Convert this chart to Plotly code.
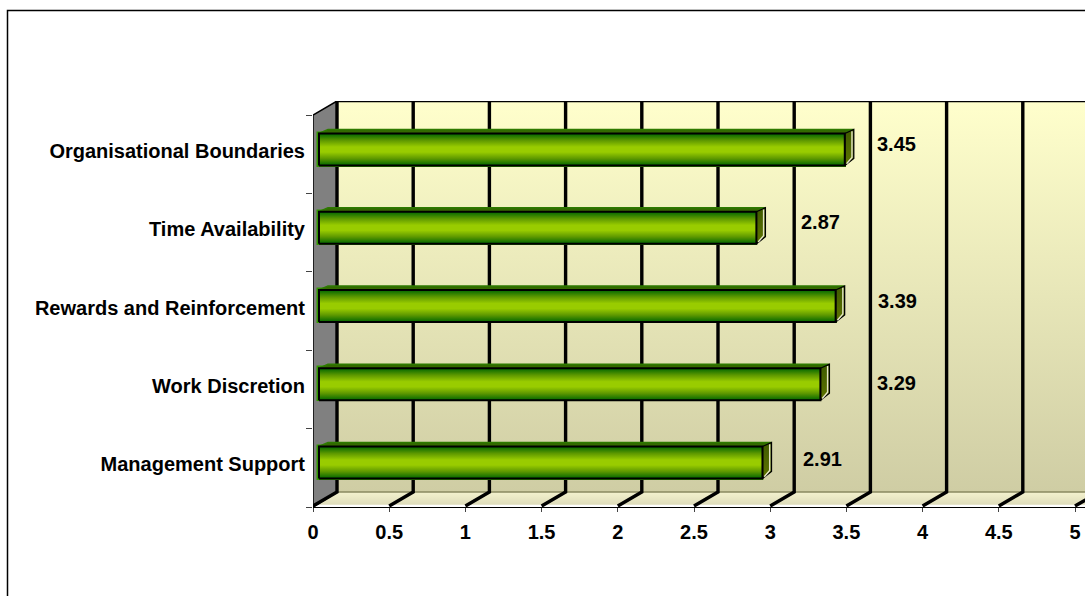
import plotly.graph_objects as go

categories = ["Management Support", "Work Discretion", "Rewards and Reinforcement", "Time Availability", "Organisational Boundaries"]
values = [2.91, 3.29, 3.39, 2.87, 3.45]
x_ticks = [0, 0.5, 1, 1.5, 2, 2.5, 3, 3.5, 4, 4.5, 5]
x_tick_labels = ["0", "0.5", "1", "1.5", "2", "2.5", "3", "3.5", "4", "4.5", "5"]
label_dx = [60, 76, 62, 64, 52]
label_dy = [-3, -1, -5, -5, -5]

W, H = 1085, 596
PX_X0, PX_XUNIT = 313, 152.4
PX_FRONT, PX_BACKTOP = 507, 101
PX_BANDS = 78.4
XMAX = (W - PX_X0) / PX_XUNIT
DX = 24 / PX_XUNIT
DY = 15 / PX_BANDS
TOP = (PX_FRONT - PX_BACKTOP) / PX_BANDS
BAR_BASE = 6 / PX_XUNIT
FONT = dict(family="Liberation Sans", size=20, color="#000000")

C0, CS = 464, 78.25
Y2MIN = (C0 - PX_FRONT) / CS
Y2MAX = (C0 - PX_BACKTOP) / CS
BAR_SHIFT = 1.5 / CS
BAR_H = 32 / CS
DEPTH_X = 9 / PX_XUNIT
DEPTH_TOP = 4 / CS
DEPTH_BOT = 7 / CS
INSET_X = 1.8 / PX_XUNIT
INSET_Y = 1.8 / CS

fig = go.Figure()

fig.add_trace(go.Scatter(x=[DX, XMAX, XMAX, DX, DX], y=[DY, DY, TOP, TOP, DY], mode="lines", fill="toself",
    line=dict(width=0), hoverinfo="skip", showlegend=False,
    fillgradient=dict(type="vertical", colorscale=[[0, "#CFCDA4"], [1, "#FFFFCC"]])))
fig.add_trace(go.Scatter(x=[0, XMAX, XMAX, DX, 0], y=[0.028, 0.028, DY, DY, 0.028], mode="lines", fill="toself",
    line=dict(width=0), hoverinfo="skip", showlegend=False,
    fillgradient=dict(type="vertical", colorscale=[[0, "#DEDCBA"], [1, "#F4F2CE"]])))
fig.add_trace(go.Scatter(x=[DX, XMAX], y=[DY, DY], mode="lines", line=dict(width=1.5, color="#8A8860"),
    hoverinfo="skip", showlegend=False))
fig.add_trace(go.Scatter(x=[0, DX, DX, 0, 0], y=[0, DY, TOP, 5, 0], mode="lines", fill="toself", fillcolor="#808080",
    line=dict(width=1.5, color="#000000"), hoverinfo="skip", showlegend=False))
fig.add_trace(go.Scatter(x=[DX, XMAX], y=[TOP - 0.005, TOP - 0.005], mode="lines",
    line=dict(width=1.5, color="#000000"), hoverinfo="skip", showlegend=False))
gx, gy = [], []
for t in x_ticks:
    gx += [t, t + DX, t + DX, None]
    gy += [0.012, DY, TOP, None]
fig.add_trace(go.Scatter(x=gx, y=gy, mode="lines", line=dict(width=3.4, color="#000000"),
    hoverinfo="skip", showlegend=False))

fig.add_trace(go.Bar(x=list(values), y=list(range(len(values))), base=BAR_BASE, orientation="h",
    width=BAR_H, offset=BAR_SHIFT - BAR_H / 2, yaxis="y2",
    marker=dict(color="#66A000", line=dict(color="#339900", width=3.5)), showlegend=False,
    text=categories, textposition="none", hovertemplate="%{text}: %{x}<extra></extra>"))
for i, v in enumerate(values):
    x0, x1 = BAR_BASE, BAR_BASE + v
    y0, y1 = i + BAR_SHIFT - BAR_H / 2, i + BAR_SHIFT + BAR_H / 2
    fig.add_trace(go.Scatter(x=[x0, x0 + DEPTH_X, x1 + DEPTH_X, x1, x0], y=[y1, y1 + DEPTH_TOP, y1 + DEPTH_TOP, y1, y1],
        yaxis="y2", mode="lines", fill="toself", line=dict(color="#2E7A00", width=1.5),
        hoverinfo="skip", showlegend=False,
        fillgradient=dict(type="vertical", colorscale=[[0, "#3C6E00"], [1, "#2E6600"]])))
    fig.add_trace(go.Scatter(x=[x1, x1 + DEPTH_X, x1 + DEPTH_X, x1, x1], y=[y1, y1 + DEPTH_TOP, y0 + DEPTH_BOT, y0, y1],
        yaxis="y2", mode="lines", fill="toself", line=dict(color="#000000", width=1.3),
        hoverinfo="skip", showlegend=False,
        fillgradient=dict(type="vertical", colorscale=[[0, "#5E7400"], [1, "#3F5A00"]])))
    # pale rim on the outer edges of the side face
    fig.add_trace(go.Scatter(x=[x1 + DEPTH_X - INSET_X, x1 + DEPTH_X - INSET_X, x1 + INSET_X],
        y=[y1 + DEPTH_TOP - INSET_Y, y0 + DEPTH_BOT + INSET_Y * 0.6, y0 + INSET_Y],
        yaxis="y2", mode="lines", line=dict(color="#E6E6C8", width=1.4), hoverinfo="skip", showlegend=False))
    fig.add_trace(go.Scatter(x=[x0, x1, x1, x0, x0], y=[y0, y0, y1, y1, y0],
        yaxis="y2", mode="lines", fill="toself", line=dict(color="#000000", width=2),
        hoverinfo="skip", showlegend=False,
        fillgradient=dict(type="vertical", colorscale=[[0, "#006600"], [0.22, "#5F9900"], [0.42, "#99CC00"],
                                                       [0.58, "#99CC00"], [0.78, "#5F9900"], [1, "#006600"]])))

annotations = []
for i, v in enumerate(values):
    annotations.append(dict(x=v, y=i, xref="x", yref="y2", text=f"<b>{v:.2f}</b>", showarrow=False,
        xshift=label_dx[i] + BAR_BASE * PX_XUNIT, yshift=-label_dy[i] + 2, font=FONT))

fig.update_layout(
    width=W, height=H, margin=dict(l=0, r=0, t=0, b=0), autosize=False,
    paper_bgcolor="#FFFFFF", plot_bgcolor="rgba(0,0,0,0)", font=FONT, bargap=0,
    annotations=annotations,
    shapes=[dict(type="rect", xref="paper", yref="paper", layer="below",
                 x0=7.5 / W, x1=1.02, y0=-0.02, y1=1 - 10.5 / H, line=dict(color="#000000", width=1.5))],
    xaxis=dict(domain=[PX_X0 / W, 1], range=[0, XMAX], tickmode="array", tickvals=x_ticks, automargin=False,
        ticktext=[f"<b>{t}</b>" for t in x_tick_labels], ticks="outside", ticklen=4, tickwidth=1, tickcolor="#444444",
        showline=True, linecolor="#000000", linewidth=1, showgrid=False, zeroline=False,
        ticklabelstandoff=3, tickfont=FONT, anchor="y"),
    yaxis=dict(domain=[1 - PX_FRONT / H, 1 - PX_BACKTOP / H], range=[0, TOP], tickmode="array", automargin=False,
        tickvals=[0, 1, 2, 3, 4, 5], ticks="outside", ticklen=6, tickwidth=1, tickcolor="#444444",
        showticklabels=False, showgrid=False, zeroline=False, showline=False),
    yaxis2=dict(domain=[1 - PX_FRONT / H, 1 - PX_BACKTOP / H], range=[Y2MIN, Y2MAX], overlaying="y", side="left",
        tickmode="array", tickvals=list(range(len(categories))), ticktext=[f"<b>{c}</b>" for c in categories], automargin=False,
        ticks="", showgrid=False, zeroline=False, showline=False, tickfont=FONT, ticklabelstandoff=7, anchor="x"),
)
fig.write_html("out.html", config={"displayModeBar": False},
               post_script="document.body.style.margin='0';document.body.style.overflow='hidden';")
